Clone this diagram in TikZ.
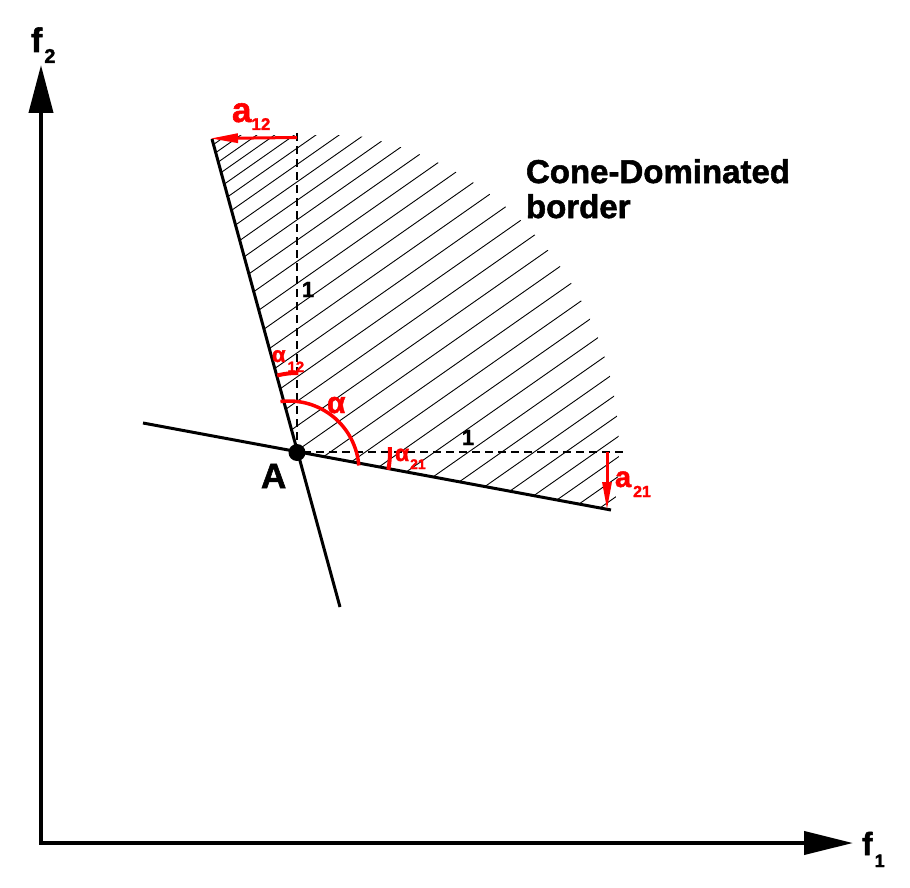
\documentclass[tikz,border=0pt]{standalone}
\usepackage{fontspec}
\setmainfont{Liberation Sans}[BoldFeatures={FakeBold=1.6}]
\usetikzlibrary{arrows.meta}
\newcommand\myfs[1]{\fontsize{#1}{#1}\selectfont\bfseries}
\newcommand\mysub[3]{\raisebox{-#1pt}{\myfs{#2}#3}}
\begin{document}
\begin{tikzpicture}[x=1pt,y=-1pt,
  every node/.style={inner sep=0pt,outer sep=0pt},
  axisline/.style={line width=4pt,black,line join=miter,
    {Triangle[length=48pt,width=24pt]}-{Triangle[length=49pt,width=23pt]}},
  coneline/.style={line width=3pt,black},
  hatchline/.style={line width=0.9pt,black},
  dashline/.style={line width=2.2pt,black,dash pattern=on 8pt off 5pt},
  redarrow/.style={line width=3pt,red,-{Triangle[length=28pt,width=9pt]}},
  redarc/.style={line width=3.5pt,red},
  redmark/.style={line width=4pt,red},
  lbl/.style={anchor=base west}]
\useasboundingbox (0,0) rectangle (910,888);
% coordinates
\coordinate (O) at (41,843);
\coordinate (Y) at (41,65);
\coordinate (X) at (853,843);
\coordinate (T) at (212,139);
\coordinate (Lend) at (340,607);
\coordinate (Bl) at (143,423);
\coordinate (B) at (611,510);
\coordinate (Vtop) at (297,133);
\coordinate (Hend) at (623,452);
% hatching
\begin{scope}
  \clip (297,452) -- plot[domain=105.2:-10.5,samples=80] ({297+322*cos(\x)},{452-322*sin(\x)}) -- cycle;
  \clip (0,136) rectangle (910,888);
  \foreach \t in {103.6,100,...,-9.5}{
    \draw[hatchline] ({297+322*cos(\t)+10*cos(35)},{452-322*sin(\t)-10*sin(35)}) -- ++({-700*cos(35)},{700*sin(35)});
  }
\end{scope}
% axes
\draw[axisline] (Y) -- (O) -- (X);
% dashed unit lines
\draw[dashline] (Vtop) -- (297,452) -- (Hend);
% cone lines
\draw[coneline] (T) -- (Lend);
\draw[coneline] (Bl) -- (B);
% point A
\node[circle,fill=black,minimum size=17pt] (A) at (297,452.5) {};
% red arrows
\draw[redarrow] (297,137.5) -- (210,138.5);
\draw[redarrow] (607,452) -- (607,510);
% angle arcs
\draw[redarc] plot[domain=97:4.5,samples=40] ({289+70*cos(\x)},{471-70*sin(\x)});
\draw[redmark] plot[domain=89:104.5,samples=20] ({297+79*cos(\x)},{452-79*sin(\x)});
\draw[redmark] plot[domain=3:-11,samples=20] ({297+93*cos(\x)},{452-93*sin(\x)});
% labels
\node[lbl] (f2) at (31,52) {\myfs{34}f\kern2pt\mysub{11}{20}{2}};
\node[lbl] (f1) at (862,855) {\myfs{32}f\kern2pt\mysub{12}{18}{1}};
\node[lbl] (Alab) at (261,488) {\myfs{35}A};
\node (one1) at (308,289.5) {\myfs{22}1};
\node (one2) at (468,437.5) {\myfs{22}1};
\node[lbl,red] (a12) at (232,122) {\myfs{35}a\mysub{8}{17}{12}};
\node[lbl,red] (a21) at (615,487) {\myfs{29}a\kern2pt\mysub{10}{16}{21}};
\node[lbl,red] (alpha) at (327,413) {\myfs{30}α};
\node[lbl,red] (al12) at (272,362) {\myfs{22}α\kern2pt\mysub{10}{15}{12}};
\node[lbl,red] (al21) at (395,461) {\myfs{23}α\kern1pt\mysub{8}{14}{21}};
\node[lbl] (cone) at (526,183) {\myfs{33}Cone-Dominated};
\node[lbl] (border) at (526,218) {\myfs{33}border};
\end{tikzpicture}
\end{document}
